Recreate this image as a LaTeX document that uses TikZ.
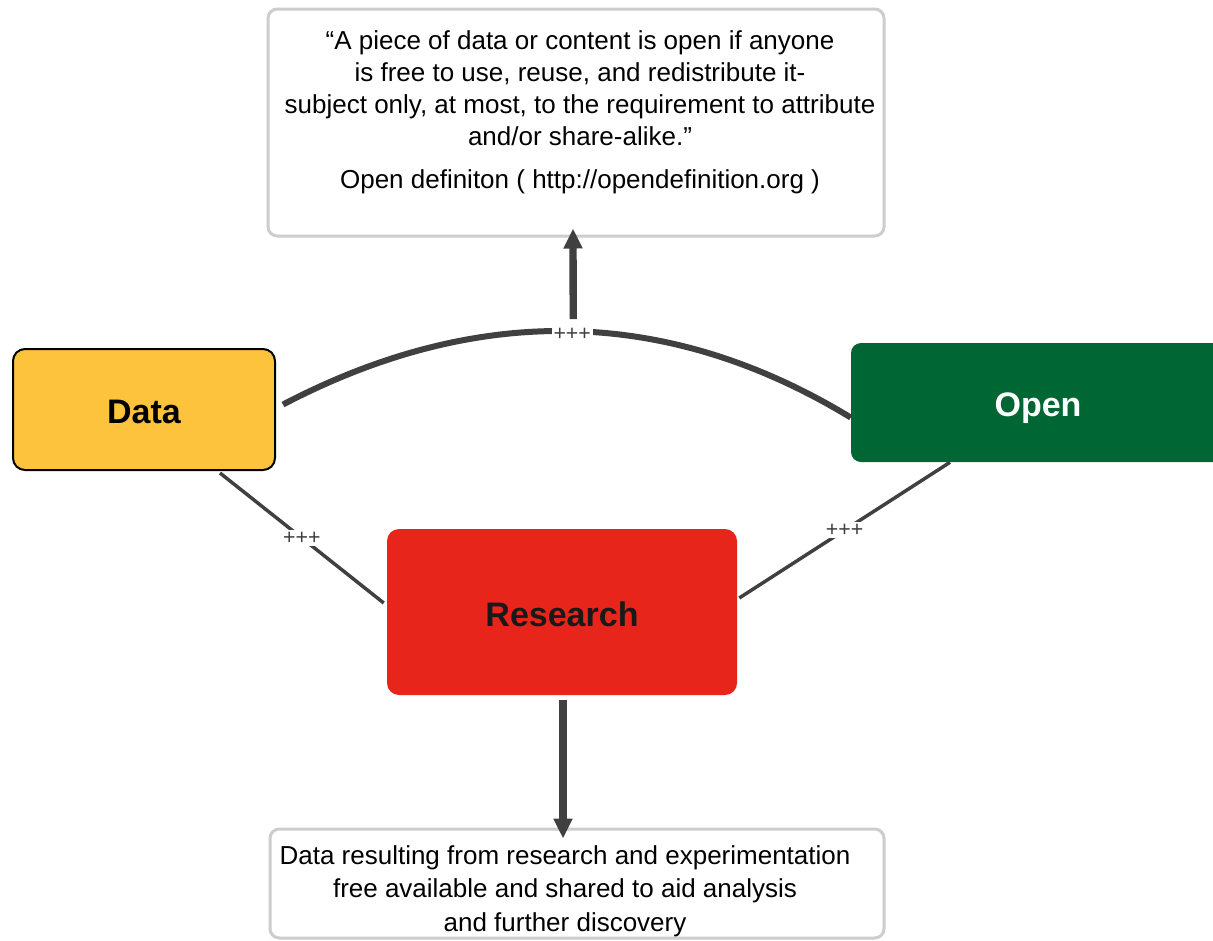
\documentclass[tikz,border=0pt]{standalone}
\usepackage{fontspec}
\setmainfont{Liberation Sans}
\usetikzlibrary{arrows.meta,calc}
\definecolor{datafill}{HTML}{FDC33C}
\definecolor{openfill}{HTML}{006633}
\definecolor{resfill}{HTML}{E8251B}
\definecolor{linecol}{HTML}{404040}
\definecolor{boxline}{HTML}{CDCDCD}
\begin{document}
\begin{tikzpicture}[x=0.75pt,y=-0.75pt,
  mainbox/.style={rectangle, rounded corners=9pt, inner sep=0pt, text height=21.3pt, text depth=0pt,
    font=\bfseries\fontsize{25.5}{25.5}\selectfont},
  infobox/.style={rectangle, rounded corners=7pt, draw=boxline, line width=2.25pt, fill=white, inner sep=0pt},
  infotext/.style={align=center, inner sep=0pt, font=\fontsize{19.5}{24.2}\selectfont},
  plus/.style={fill=white, inner sep=1.5pt, text=linecol, font=\fontsize{16}{16}\selectfont},
  thickline/.style={draw=linecol, line width=4.5pt},
  thinline/.style={draw=linecol, line width=2.6pt},
  bigarrow/.style={draw=linecol, line width=5.5pt, -{Triangle[width=13.5pt,length=15pt]}, fill=linecol}
]
\clip (0,0) rectangle (1213,940);
\fill[white] (0,0) rectangle (1213,940);
% boxes
\node[infobox, minimum width=462pt, minimum height=170.25pt] (defbox) at (576,122.5) {};
\node[infotext] (deftext) at (580,112) {``A piece of data or content is open if anyone\\
is free to use, reuse, and redistribute it-\\
subject only, at most, to the requirement to attribute\\
and/or share-alike.''\\[7.5pt]
Open definiton ( http://opendefinition.org )};
\node[infobox, minimum width=460.5pt, minimum height=81.75pt] (botbox) at (577,883.5) {};
\node[infotext, font=\fontsize{19.5}{25.1}\selectfont] (bottext) at (565,891) {Data resulting from research and experimentation\\
free available and shared to aid analysis\\
and further discovery};
\node[mainbox, fill=datafill, draw=black, line width=1.5pt, minimum width=196.5pt, minimum height=90.75pt] (Data) at (144,409.5) {Data};
\node[mainbox, fill=openfill, text=white, rounded corners=7.5pt, minimum width=280.5pt, minimum height=89.25pt] (Open) at (1038,402.5) {Open};
\node[mainbox, fill=resfill, text=black!90, minimum width=262.5pt, minimum height=124.5pt] (Research) at (562,612) {Research};
% connectors
\draw[thickline] ($(Data.east)+(7,-5)$) .. controls (479,302) and (669,307) .. ($(Open.west)+(0,15)$)
  node[plus, pos=0.5, yshift=-2.25pt] (arclabel) {+++};
\draw[thinline] ($(Data.south)+(76,2)$) -- node[plus] (dlabel) {+++} ($(Research.west)+(-3,-9)$);
\draw[thinline] ($(Open.south)+(-88,0)$) -- node[plus] (olabel) {+++} ($(Research.east)+(2,-14)$);
\draw[bigarrow] ($(arclabel.center)+(1,-15)$) -- ($(defbox.south)+(-3,-9)$);
\draw[bigarrow] ($(Research.south)+(1,5)$) -- ($(botbox.north)+(-14,11)$);
\end{tikzpicture}
\end{document}
